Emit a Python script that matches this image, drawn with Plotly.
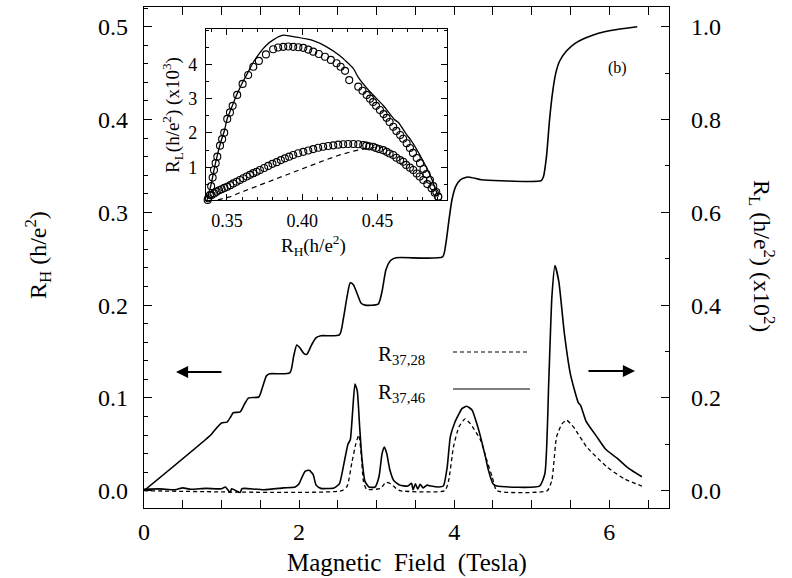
import plotly.graph_objects as go

# ---------------- main panel data ----------------
# Hall resistance R_H (h/e^2) vs magnetic field (T)
b_hall = [0.0, 0.86, 0.90, 0.95, 1.00, 1.07, 1.12, 1.15, 1.24, 1.30, 1.35, 1.48, 1.53, 1.58,
          1.62, 1.88, 1.93, 1.97, 2.01, 2.06, 2.10, 2.16, 2.22, 2.28, 2.52, 2.57, 2.62, 2.66,
          2.70, 2.75, 2.80, 2.85, 3.02, 3.07, 3.12, 3.18, 3.25, 3.85, 3.89, 3.93, 3.97, 4.02,
          4.08, 4.18, 4.35, 4.60, 5.12, 5.15, 5.19, 5.23, 5.27, 5.31, 5.36, 5.45, 5.56, 5.70,
          5.86, 6.10, 6.36]
r_hall = [0.0, 0.060, 0.064, 0.069, 0.073, 0.074, 0.080, 0.084, 0.085, 0.094, 0.100, 0.101,
          0.112, 0.124, 0.126, 0.127, 0.145, 0.157, 0.154, 0.148, 0.147, 0.157, 0.165, 0.167,
          0.168, 0.185, 0.210, 0.224, 0.222, 0.212, 0.202, 0.200, 0.201, 0.215, 0.238, 0.248,
          0.251, 0.252, 0.265, 0.290, 0.313, 0.328, 0.335, 0.338, 0.335, 0.334, 0.334, 0.338,
          0.360, 0.400, 0.430, 0.450, 0.463, 0.474, 0.482, 0.488, 0.493, 0.497, 0.500]

# Longitudinal resistance R_37,46 (solid), units 1e-2 h/e^2
b_r3746 = [0.0, 0.2, 0.4, 0.5, 0.6, 0.8, 1.0, 1.05, 1.11, 1.13, 1.24, 1.26, 1.3, 1.55, 1.8,
           1.95, 2.0, 2.04, 2.08, 2.13, 2.18, 2.22, 2.28, 2.45, 2.52, 2.58, 2.63, 2.66, 2.69,
           2.72, 2.75, 2.78, 2.81, 2.85, 2.9, 2.98, 3.03, 3.07, 3.1, 3.13, 3.17, 3.22, 3.3,
           3.4, 3.45, 3.47, 3.5, 3.53, 3.56, 3.6, 3.65, 3.7, 3.8, 3.86, 3.91, 3.95, 4.01, 4.06,
           4.1, 4.16, 4.23, 4.3, 4.34, 4.4, 4.44, 4.5, 4.55, 5.1, 5.17, 5.22, 5.26, 5.30, 5.35,
           5.42, 5.5, 5.6, 5.63, 5.7, 5.84, 5.95, 6.1, 6.25, 6.42]
r_3746 = [0.003, 0.004, 0.002, 0.006, 0.003, 0.005, 0.004, 0.008, -0.004, 0.004, -0.004, 0.004,
          0.005, 0.002, 0.006, 0.008, 0.015, 0.030, 0.042, 0.044, 0.035, 0.012, 0.005, 0.006,
          0.015, 0.060, 0.100, 0.110, 0.170, 0.230, 0.215, 0.140, 0.070, 0.020, 0.008, 0.008,
          0.030, 0.080, 0.094, 0.080, 0.045, 0.022, 0.012, 0.010, 0.016, 0.002, 0.015, 0.003,
          0.014, 0.006, 0.012, 0.010, 0.008, 0.010, 0.051, 0.116, 0.148, 0.165, 0.177, 0.182,
          0.174, 0.140, 0.116, 0.075, 0.045, 0.015, 0.010, 0.010, 0.037, 0.238, 0.418, 0.485,
          0.450, 0.340, 0.250, 0.190, 0.184, 0.150, 0.116, 0.090, 0.070, 0.048, 0.030]

# Longitudinal resistance R_37,28 (dashed), units 1e-2 h/e^2
b_r3728 = [0.0, 2.55, 2.62, 2.68, 2.73, 2.77, 2.80, 2.83, 2.87, 3.05, 3.12, 3.18, 3.25, 3.30,
           3.88, 3.93, 3.99, 4.06, 4.14, 4.21, 4.34, 4.42, 4.49, 4.55, 5.20, 5.26, 5.32, 5.39,
           5.45, 5.54, 5.71, 5.97, 6.20, 6.42]
r_3728 = [0.0, 0.0, 0.010, 0.060, 0.100, 0.120, 0.080, 0.020, 0.003, 0.005, 0.018, 0.015,
          0.005, 0.0, 0.0, 0.023, 0.094, 0.137, 0.155, 0.144, 0.109, 0.066, 0.030, 0.0, 0.0,
          0.023, 0.116, 0.144, 0.152, 0.137, 0.094, 0.051, 0.025, 0.010]

# ---------------- inset data ----------------
up_circ_rh = [0.3372, 0.3387, 0.3395, 0.3405, 0.3414, 0.3425, 0.3436, 0.3454, 0.3468, 0.3482,
              0.3502, 0.3520, 0.3538, 0.3568, 0.3604, 0.3641, 0.3675, 0.3712, 0.3759, 0.3807,
              0.3840, 0.3874, 0.3907, 0.3940, 0.3974, 0.4007, 0.4040, 0.4073, 0.4110, 0.4151,
              0.4190, 0.4228, 0.4255, 0.4284, 0.4312, 0.4372, 0.4400, 0.4428, 0.4450, 0.4470,
              0.4490, 0.4516, 0.4540, 0.4560, 0.4580, 0.4604, 0.4625, 0.4650, 0.4670, 0.4693,
              0.4715, 0.4735, 0.4760, 0.4782, 0.4805, 0.4825, 0.4848, 0.4870, 0.4890, 0.4903]
up_circ_rl = [0.05, 0.19, 0.45, 0.70, 0.92, 1.12, 1.31, 1.63, 1.82, 2.01, 2.41, 2.60, 2.79,
              3.11, 3.43, 3.69, 3.93, 4.10, 4.29, 4.44, 4.49, 4.51, 4.52, 4.51, 4.50, 4.48,
              4.43, 4.37, 4.30, 4.22, 4.13, 4.03, 3.93, 3.81, 3.54, 3.35, 3.23, 3.11, 3.00,
              2.90, 2.79, 2.67, 2.55, 2.44, 2.32, 2.18, 2.06, 1.94, 1.83, 1.70, 1.56, 1.42,
              1.27, 1.12, 0.95, 0.80, 0.63, 0.45, 0.28, 0.14]

lo_circ_rh = [0.3376, 0.3398, 0.3415, 0.3432, 0.3448, 0.3465, 0.3483, 0.3502, 0.3522, 0.3542,
              0.3564, 0.3586, 0.3608, 0.3631, 0.3653, 0.3675, 0.3697, 0.3719, 0.3747, 0.3774,
              0.3802, 0.3830, 0.3858, 0.3885, 0.3913, 0.3940, 0.3973, 0.4007, 0.4040, 0.4073,
              0.4106, 0.4139, 0.4172, 0.4206, 0.4239, 0.4272, 0.4305, 0.4339, 0.4372, 0.4405,
              0.4425, 0.4445, 0.4471, 0.4490, 0.4510, 0.4538, 0.4560, 0.4580, 0.4604, 0.4625,
              0.4650, 0.4671, 0.4690, 0.4715, 0.4737, 0.4760, 0.4780, 0.4804, 0.4830, 0.4859,
              0.4880, 0.4903]
lo_circ_rl = [0.10, 0.19, 0.24, 0.29, 0.33, 0.36, 0.40, 0.43, 0.48, 0.53, 0.58, 0.63, 0.68,
              0.73, 0.78, 0.83, 0.87, 0.92, 0.98, 1.04, 1.10, 1.15, 1.21, 1.26, 1.31, 1.36,
              1.41, 1.45, 1.49, 1.53, 1.57, 1.60, 1.62, 1.64, 1.66, 1.67, 1.68, 1.68, 1.67,
              1.65, 1.63, 1.61, 1.60, 1.56, 1.53, 1.50, 1.45, 1.40, 1.36, 1.28, 1.21, 1.16,
              1.07, 0.99, 0.92, 0.82, 0.73, 0.63, 0.51, 0.39, 0.26, 0.14]

up_line_rh = [0.3368, 0.3395, 0.3414, 0.3436, 0.3460, 0.3482, 0.3502, 0.3538, 0.3568, 0.3604,
              0.3641, 0.3675, 0.3712, 0.3760, 0.3810, 0.3874, 0.3963, 0.4073, 0.4162, 0.4250,
              0.4339, 0.4372, 0.4450, 0.4538, 0.4610, 0.4640, 0.4693, 0.4720, 0.4782, 0.4848,
              0.4903]
up_line_rl = [0.05, 0.50, 0.92, 1.35, 1.75, 2.05, 2.42, 2.82, 3.14, 3.48, 3.78, 4.06, 4.30,
              4.55, 4.72, 4.85, 4.79, 4.69, 4.51, 4.25, 3.88, 3.62, 3.20, 2.80, 2.40, 2.30,
              1.95, 1.80, 1.35, 0.78, 0.14]

lo_dash_rh = [0.3440, 0.3520, 0.3586, 0.3700, 0.3807, 0.3920, 0.4029, 0.4140, 0.4250, 0.4340,
              0.4428, 0.4480]
lo_dash_rl = [0.05, 0.14, 0.26, 0.45, 0.64, 0.83, 1.02, 1.19, 1.36, 1.47, 1.55, 1.58]

x_ticks = [0, 2, 4, 6]
inset_x_ticks = [0.35, 0.40, 0.45]
inset_y_ticks = [1, 2, 3, 4]

# ---------------- figure ----------------
SERIF = "Liberation Serif"
BLK = "black"
fig = go.Figure()

fig.add_trace(go.Scatter(x=b_hall, y=r_hall, mode="lines",
                         line=dict(color=BLK, width=1.6, shape="spline", smoothing=0.6),
                         xaxis="x", yaxis="y", showlegend=False))
fig.add_trace(go.Scatter(x=b_r3728, y=r_3728, mode="lines",
                         line=dict(color=BLK, width=1.3, dash="4px,3px", shape="spline",
                                   smoothing=0.5),
                         xaxis="x", yaxis="y2", showlegend=False))
fig.add_trace(go.Scatter(x=b_r3746, y=r_3746, mode="lines",
                         line=dict(color=BLK, width=1.6, shape="spline", smoothing=0.5),
                         xaxis="x", yaxis="y2", showlegend=False))

circ = dict(symbol="circle-open", size=7, color=BLK, line=dict(width=1.1, color=BLK))
fig.add_trace(go.Scatter(x=up_circ_rh, y=up_circ_rl, mode="markers", marker=circ,
                         xaxis="x2", yaxis="y3", showlegend=False, cliponaxis=False))
fig.add_trace(go.Scatter(x=lo_circ_rh, y=lo_circ_rl, mode="markers", marker=circ,
                         xaxis="x2", yaxis="y3", showlegend=False, cliponaxis=False))
fig.add_trace(go.Scatter(x=up_line_rh, y=up_line_rl, mode="lines",
                         line=dict(color=BLK, width=1.3, shape="spline", smoothing=0.5),
                         xaxis="x2", yaxis="y3", showlegend=False))
fig.add_trace(go.Scatter(x=lo_dash_rh, y=lo_dash_rl, mode="lines",
                         line=dict(color=BLK, width=1.2, dash="5px,4px"), xaxis="x2",
                         yaxis="y3", showlegend=False))

axis_common = dict(showline=True, linecolor=BLK, linewidth=1.3, showgrid=False,
                   zeroline=False, ticks="inside", tickcolor=BLK, tickwidth=1.2)

fig.update_layout(
    width=792, height=578,
    margin=dict(l=144, r=123, t=7, b=70),
    paper_bgcolor="white", plot_bgcolor="white",
    font=dict(family=SERIF, color=BLK),
    xaxis=dict(range=[0, 6.77], tickvals=x_ticks, ticklen=8, mirror="allticks",
               minor=dict(dtick=0.5, tick0=0, ticks="inside", ticklen=4, tickcolor=BLK),
               tickfont=dict(size=24, family=SERIF), ticklabelstandoff=2, **axis_common),
    yaxis=dict(range=[-0.0186, 0.5212], dtick=0.1, tick0=0, tickformat=".1f", ticklen=8,
               minor=dict(dtick=0.02, tick0=0, ticks="inside", ticklen=4, tickcolor=BLK),
               tickfont=dict(size=24, family=SERIF), ticklabelstandoff=10, **axis_common),
    yaxis2=dict(range=[-0.0373, 1.0425], dtick=0.2, tick0=0, tickformat=".1f", ticklen=8,
                overlaying="y", side="right",
                minor=dict(dtick=0.1, tick0=0, ticks="inside", ticklen=4, tickcolor=BLK),
                tickfont=dict(size=24, family=SERIF), ticklabelstandoff=16, **axis_common),
    xaxis2=dict(domain=[0.1181, 0.5771], anchor="y3", range=[0.3361, 0.4961],
                tickvals=inset_x_ticks, tickformat=".2f", ticklen=6, mirror="allticks",
                minor=dict(dtick=0.01, tick0=0, ticks="inside", ticklen=3, tickcolor=BLK),
                tickfont=dict(size=18, family=SERIF), ticklabelstandoff=4, **axis_common),
    yaxis3=dict(domain=[0.6148, 0.9561], anchor="x2", range=[0.0475, 5.03],
                tickvals=inset_y_ticks, ticklen=6, mirror="allticks",
                minor=dict(dtick=0.5, tick0=0, ticks="inside", ticklen=3, tickcolor=BLK),
                tickfont=dict(size=18, family=SERIF), ticklabelstandoff=4, **axis_common),
)


def px(xp):
    return (xp - 144) / 525.0


def py(yp):
    return (508 - yp) / 501.0


def label(text, x, y, size, angle=0, xanchor="center"):
    return dict(text=text, x=px(x), y=py(y), xref="paper", yref="paper", showarrow=False,
                textangle=angle, xanchor=xanchor, yanchor="middle",
                font=dict(size=size, family=SERIF, color=BLK))


ann = [
    label("Magnetic  Field  (Tesla)", 407, 563, 25),
    label("R<sub>H</sub> (h/e<sup>2</sup>)", 38, 255, 24, -90),
    label("R<sub>L</sub> (h/e<sup>2</sup>) (x10<sup>2</sup>)", 762, 256, 24, 90),
    label("R<sub>H</sub>(h/e<sup>2</sup>)", 313, 245, 19),
    label("R<sub>L</sub>(h/e<sup>2</sup>) (x10<sup>3</sup>)", 172, 115, 19, -90),
    label("(b)", 617, 68, 16),
    label("R<sub>37,28</sub>", 376, 355, 21, xanchor="left"),
    label("R<sub>37,46</sub>", 376, 393, 21, xanchor="left"),
]
# arrows indicating which axis each curve uses
ann.append(dict(text="", x=px(176), y=py(372), xref="paper", yref="paper", showarrow=True,
                ax=47, ay=0, arrowhead=2, arrowsize=1.1, arrowwidth=2.2, arrowcolor=BLK))
ann.append(dict(text="", x=px(635), y=py(371), xref="paper", yref="paper", showarrow=True,
                ax=-48, ay=0, arrowhead=2, arrowsize=1.1, arrowwidth=2.2, arrowcolor=BLK))
fig.update_layout(annotations=ann)

shapes = [
    dict(type="line", xref="paper", yref="paper", x0=px(453), x1=px(528), y0=py(352),
         y1=py(352), line=dict(color=BLK, width=1.2, dash="4px,3px")),
    dict(type="line", xref="paper", yref="paper", x0=px(453), x1=px(530), y0=py(389),
         y1=py(389), line=dict(color=BLK, width=1.2)),
]
fig.update_layout(shapes=shapes)

fig.write_html("out.html")
